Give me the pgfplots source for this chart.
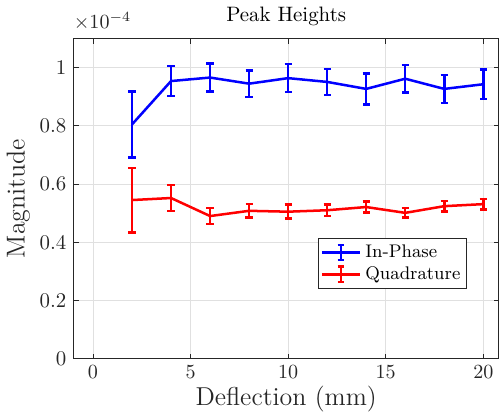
\documentclass[border=0pt]{standalone}
\usepackage{pgfplots}
\pgfplotsset{compat=1.18}
\definecolor{axgray}{gray}{0.15}
\definecolor{gridgray}{gray}{0.88}
\begin{document}
\begin{tikzpicture}
\begin{axis}[
  name=ax,
  scale only axis,
  width=212pt, height=159.5pt,
  xmin=-1, xmax=20.8, ymin=0, ymax=1.1,
  xtick={0,5,10,15,20},
  ytick={0,0.2,0.4,0.6,0.8,1},
  yticklabels={0,0.2,0.4,0.6,0.8,1},
  tick align=inside,
  major tick length=2.5pt,
  axis line style={axgray, line width=0.4pt},
  tick style={axgray, line width=0.4pt},
  grid=major,
  major grid style={gridgray, line width=0.4pt},
  ticklabel style={font=\fontsize{10.4}{12}\selectfont, text=axgray},
  title={Peak Heights},
  title style={font=\fontsize{10.4}{12}\selectfont, text=black, yshift=-3pt},
  xlabel={Deflection (mm)},
  ylabel={Magnitude},
  label style={font=\fontsize{12.9}{15}\selectfont, text=axgray},
  xlabel style={yshift=3pt},
  ylabel style={yshift=-2pt},
  legend cell align=left,
  legend style={at={(rel axis cs:0.9245,0.376)}, anchor=north east,
    font=\fontsize{9.1}{10.5}\selectfont, draw=axgray, line width=0.4pt,
    inner sep=1pt, row sep=-1pt},
  legend image code/.code={
    \draw[#1, line width=1.25pt] (0pt,0pt) -- (19pt,0pt);
    \draw[#1, line width=1.25pt] (9.5pt,-3.8pt) -- (9.5pt,3.8pt);
    \draw[#1, line width=1.25pt] (7.8pt,-3.8pt) -- (11.2pt,-3.8pt);
    \draw[#1, line width=1.25pt] (7.8pt,3.8pt) -- (11.2pt,3.8pt);
  },
]
\addplot[blue, line width=1.25pt, mark=none,
  error bars/.cd, y dir=both, y explicit,
  error bar style={line width=1.25pt},
  error mark options={rotate=90, mark size=1.8pt, line width=1.25pt}]
  table[x=x, y=y, y error=e] {
x y e
2 0.805 0.113
4 0.954 0.052
6 0.966 0.048
8 0.945 0.045
10 0.964 0.048
12 0.951 0.045
14 0.927 0.053
16 0.962 0.047
18 0.927 0.048
20 0.943 0.051
};
\addlegendentry{In-Phase}
\addplot[red, line width=1.25pt, mark=none,
  error bars/.cd, y dir=both, y explicit,
  error bar style={line width=1.25pt},
  error mark options={rotate=90, mark size=1.8pt, line width=1.25pt}]
  table[x=x, y=y, y error=e] {
x y e
2 0.545 0.111
4 0.552 0.044
6 0.490 0.027
8 0.508 0.023
10 0.505 0.024
12 0.510 0.020
14 0.521 0.019
16 0.501 0.016
18 0.524 0.018
20 0.531 0.018
};
\addlegendentry{Quadrature}
\end{axis}
\node[anchor=south west, inner sep=0pt, font=\fontsize{10.4}{12}\selectfont, text=axgray]
  at ([yshift=4pt]ax.north west) {$\times10^{-4}$};
\end{tikzpicture}
\end{document}
